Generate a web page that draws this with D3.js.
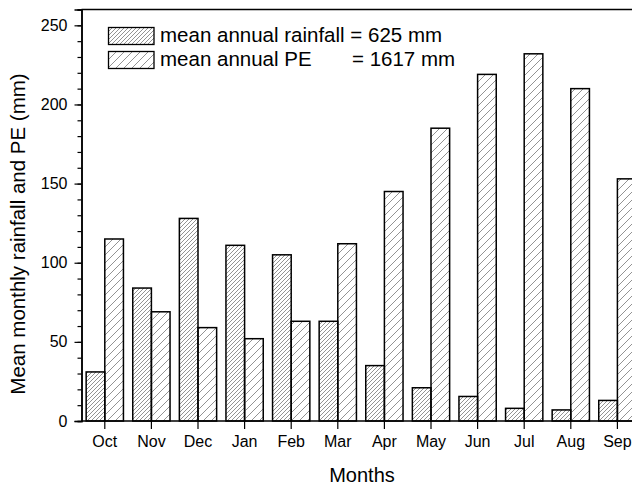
<!DOCTYPE html>
<html>
<head>
<meta charset="utf-8">
<script src="https://cdn.jsdelivr.net/npm/d3@7"></script>
<style>
body{margin:0;background:#fff;}
svg{display:block;font-family:Arial,"Liberation Sans",sans-serif;}
</style>
</head>
<body>
<div id="chart"></div>
<script>
// data (mm)
const months = ["Oct","Nov","Dec","Jan","Feb","Mar","Apr","May","Jun","Jul","Aug","Sep"];
const rainfall = [31, 84, 128, 111, 105, 63, 35, 21, 15.5, 8, 7, 13];
const pe = [115, 69, 59, 52, 63, 112, 145, 185, 219, 232, 210, 153];
const yTicks = [0, 50, 100, 150, 200, 250];
const legendLabels = ["mean annual rainfall = 625 mm", "mean annual PE"];
const legendTotals = ["", "= 1617 mm"];

let width = 632, height = 487;
let svg = d3.select("#chart").append("svg").attr("width", width).attr("height", height);

// hatches
let defs = svg.append("defs");
function hatch(id, s){
  let p = defs.append("pattern").attr("id", id).attr("patternUnits","userSpaceOnUse")
    .attr("width", s).attr("height", s);
  p.append("path").attr("d", "M0," + s + " L" + s + ",0 M-1,1 L1,-1 M" + (s-1) + "," + (s+1) + " L" + (s+1) + "," + (s-1))
    .attr("stroke","#777").attr("stroke-width",0.8).attr("fill","none");
}
hatch("hatchDense", 4);
hatch("hatchSparse", 8);

let plotLeft = 81.5, plotTop = 9.5, plotBottom = 421;
/*scales*/
let scaleX = d3.scaleBand().domain(months).range([plotLeft, plotLeft + 12*46.6]).paddingInner(0.2).paddingOuter(0.1);
let scaleY = d3.scaleLinear().domain([0, 260]).range([plotBottom, plotTop]);
let half = scaleX.bandwidth()/2;

// bars
let groups = svg.append("g").selectAll("g").data(months).enter().append("g");
groups.append("rect")
  .attr("x", d => scaleX(d))
  .attr("y", (d,i) => scaleY(rainfall[i]))
  .attr("width", half)
  .attr("height", (d,i) => scaleY(0) - scaleY(rainfall[i]))
  .attr("fill","url(#hatchDense)").attr("stroke","#000").attr("stroke-width",1.5);
groups.append("rect")
  .attr("x", d => scaleX(d) + half)
  .attr("y", (d,i) => scaleY(pe[i]))
  .attr("width", half)
  .attr("height", (d,i) => scaleY(0) - scaleY(pe[i]))
  .attr("fill","url(#hatchSparse)").attr("stroke","#000").attr("stroke-width",1.5);

// frame (right side falls off the picture)
svg.append("line").attr("x1", plotLeft).attr("x2", width + 20).attr("y1", plotTop).attr("y2", plotTop)
  .attr("stroke","#000").attr("stroke-width",1.5);

/*axes*/
let axisY = svg.append("g").attr("transform","translate(" + plotLeft + ",0)");
axisY.call(d3.axisLeft(scaleY).tickValues(d3.range(0, 261, 10)).tickSize(4).tickFormat(""));
axisY.append("g").call(d3.axisLeft(scaleY).tickValues(yTicks).tickSize(7).tickPadding(7));
axisY.selectAll("path.domain").attr("stroke-width",1.5);
axisY.selectAll("line").attr("stroke-width",1.2);
axisY.selectAll("text").attr("font-size",16).attr("font-family","Arial, 'Liberation Sans', sans-serif").attr("fill","#000");

let axisX = svg.append("g").attr("transform","translate(0," + plotBottom + ")");
axisX.call(d3.axisBottom(scaleX).tickSize(8).tickPadding(7).tickSizeOuter(0));
axisX.select("path.domain").attr("d", "M" + plotLeft + ",0H" + (width + 20)).attr("stroke-width",1.5);
axisX.selectAll("line").attr("stroke-width",1.2);
axisX.selectAll("text").attr("font-size",16).attr("font-family","Arial, 'Liberation Sans', sans-serif").attr("fill","#000");

// titles
svg.append("text").attr("x", 362).attr("y", 481.5).attr("text-anchor","middle")
  .attr("font-size",20).text("Months");
svg.append("text").attr("transform","translate(25,234) rotate(-90)").attr("text-anchor","middle")
  .attr("font-size",20.5).text("Mean monthly rainfall and PE (mm)");

// legend
let legend = svg.append("g");
["url(#hatchDense)","url(#hatchSparse)"].forEach((f,i) => {
  legend.append("rect").attr("x",108.5).attr("y",27.5 + i*24).attr("width",45.5).attr("height",17)
    .attr("fill",f).attr("stroke","#000").attr("stroke-width",1.3);
  legend.append("text").attr("x",160).attr("y",42 + i*24).attr("font-size",20.5).text(legendLabels[i]);
  legend.append("text").attr("x",352).attr("y",42 + i*24).attr("font-size",20.5).text(legendTotals[i]);
});
</script>
</body>
</html>
